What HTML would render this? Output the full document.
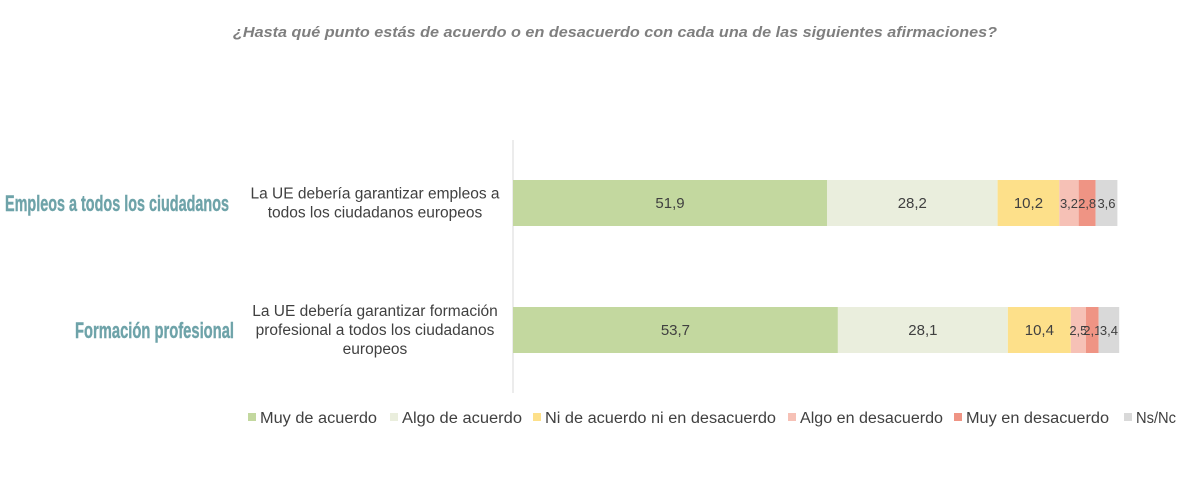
<!DOCTYPE html>
<html><head><meta charset="utf-8"><style>
body{margin:0;background:#fff;width:1193px;height:482px;overflow:hidden}
svg{display:block;font-family:"Liberation Sans",sans-serif}
</style></head><body>
<svg id="chart" width="1193" height="482" viewBox="0 0 1193 482">
<text x="233" y="37" font-size="15" font-weight="bold" font-style="italic" fill="#7f7f7f" textLength="764" lengthAdjust="spacingAndGlyphs">¿Hasta qué punto estás de acuerdo o en desacuerdo con cada una de las siguientes afirmaciones?</text>
<line x1="513" y1="140" x2="513" y2="393" stroke="#d9d9d9" stroke-width="1"/>
<g id="bars"></g>
<g id="legend"></g>
</svg>
<script>
const categories = ["Empleos a todos los ciudadanos","Formación profesional"];
const subLabels = [["La UE debería garantizar empleos a","todos los ciudadanos europeos"],["La UE debería garantizar formación","profesional a todos los ciudadanos","europeos"]];
const seriesNames = ["Muy de acuerdo","Algo de acuerdo","Ni de acuerdo ni en desacuerdo","Algo en desacuerdo","Muy en desacuerdo","Ns/Nc"];
const muyAcuerdo = [51.9,53.7];
const algoAcuerdo = [28.2,28.1];
const niNi = [10.2,10.4];
const algoDesacuerdo = [3.2,2.5];
const muyDesacuerdo = [2.8,2.1];
const nsnc = [3.6,3.4];
const series=[muyAcuerdo,algoAcuerdo,niNi,algoDesacuerdo,muyDesacuerdo,nsnc];
const colors=["#c3d89f","#eaeedd","#fde08a","#f6c1b6","#ef9484","#d9d9d9"];
const NS="http://www.w3.org/2000/svg";
const x=v=>513+v*6.05;
const yTop=i=>180+i*127, bh=46;
const g=document.getElementById('bars');
function mk(t,a,p){const e=document.createElementNS(NS,t);for(const k in a)e.setAttribute(k,a[k]);p.appendChild(e);return e;}
const catX=[[5,224],[75,159]];
categories.forEach((c,i)=>{
  let acc=0;
  series.forEach((s,j)=>{
    const v=s[i];
    const r=mk('rect',{x:x(acc),y:yTop(i),width:x(acc+v)-x(acc),height:bh,fill:colors[j]},g);
    
    
    const t=mk('text',{x:(x(acc)+x(acc+v))/2,y:yTop(i)+bh/2+5,'text-anchor':'middle','font-size':v<5?13:15,fill:'#404040'},g);
    t.textContent=String(v).replace('.',',');
    
    
    acc+=v;
  });
  const cy=yTop(i)+bh/2;
  const lt=mk('text',{x:catX[i][0],y:cy+8,'font-size':22,'font-weight':'bold',fill:'#6ea3a9',stroke:'#6ea3a9','stroke-width':0.4,textLength:catX[i][1],lengthAdjust:'spacingAndGlyphs','font-family':'"Liberation Sans Narrow","Liberation Sans",sans-serif'},g);
  lt.textContent=c;
  
  
  const lines=subLabels[i], n=lines.length;
  lines.forEach((l,k)=>{
    const st=mk('text',{x:375,y:cy+5+(k-(n-1)/2)*19,'text-anchor':'middle','font-size':15.5,fill:'#404040'},g);
    st.textContent=l;
    
    
  });
});
const lg=document.getElementById('legend');
const lx=[248,390,533,788,954,1124];
const lw=[117,120,231,143,143,40];
seriesNames.forEach((n,j)=>{
  const r=mk('rect',{x:lx[j],y:413,width:8,height:8,fill:colors[j]},lg);
  
  
  const t=mk('text',{x:lx[j]+12,y:423,'font-size':15.5,fill:'#404040',textLength:lw[j],lengthAdjust:'spacingAndGlyphs'},lg);
  t.textContent=n;
  
  
});
</script>
</body></html>
